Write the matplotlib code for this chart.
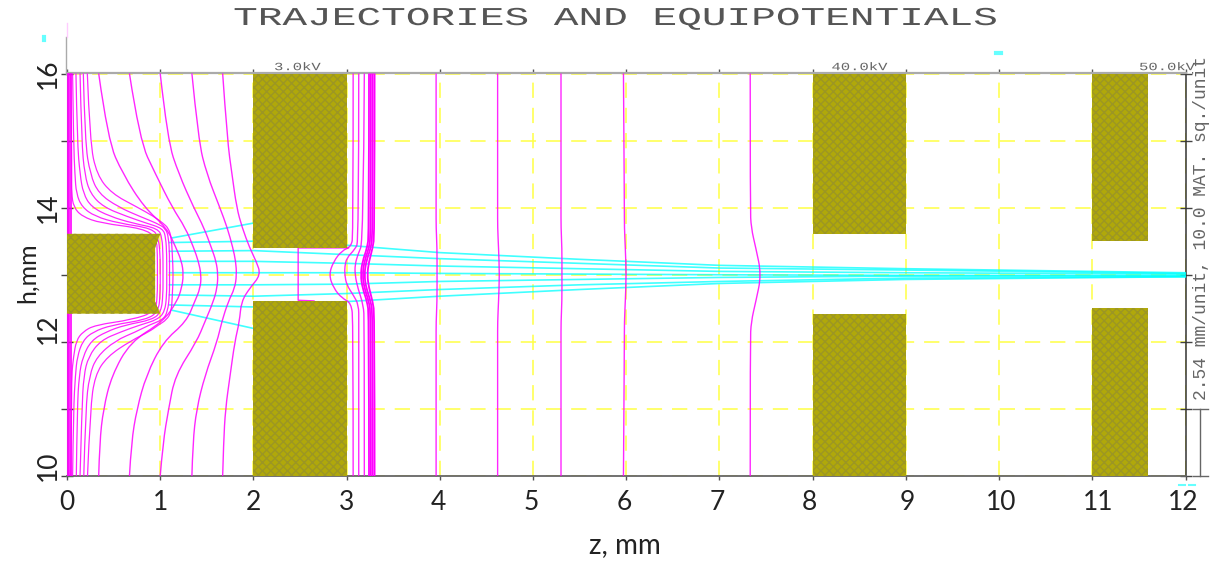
import matplotlib
matplotlib.use("Agg")
import matplotlib.pyplot as plt
import matplotlib.patheffects as pe
from matplotlib.patches import PathPatch
from matplotlib.path import Path
from matplotlib.transforms import Affine2D

#Electrodes, as outlines in mm
electrode_1_z = [0, 1.0, 0.945, 0.945, 1.0, 0]
electrode_1_h = [13.61, 13.61, 13.4, 12.6, 12.42, 12.42]
electrode_blocks = [
    (2, 3, 13.40, 16), (2, 3, 10, 12.61),
    (8, 9, 13.61, 16), (8, 9, 10, 12.42),
    (11, 11.6, 13.51, 16), (11, 11.6, 10, 12.50),
]

#Outer equipotentials of the first gap, z read at these h
gap_h = [16, 15, 14.5, 14, 13.7, 13.4, 13.2, 13, 12.8, 12.6, 12.3, 12, 11.5, 11, 10.5, 10]
gap_b = [0.34, 0.44, 0.60, 0.83, 1.07, 1.17, 1.23, 1.25, 1.23, 1.18, 1.03, 0.68, 0.48, 0.39, 0.35, 0.34]
gap_c = [0.67, 0.78, 0.95, 1.13, 1.27, 1.36, 1.41, 1.44, 1.43, 1.37, 1.28, 1.03, 0.85, 0.75, 0.69, 0.67]
gap_d = [1.00, 1.08, 1.20, 1.36, 1.47, 1.55, 1.60, 1.62, 1.61, 1.57, 1.48, 1.39, 1.16, 1.09, 1.03, 1.00]
gap_e = [1.34, 1.41, 1.50, 1.64, 1.72, 1.78, 1.81, 1.82, 1.80, 1.73, 1.66, 1.61, 1.48, 1.39, 1.35, 1.34]
gap_f = [1.67, 1.72, 1.77, 1.82, 1.88, 1.96, 2.03, 2.08, 1.96, 1.87, 1.85, 1.80, 1.75, 1.70, 1.68, 1.67]

#Inner equipotentials wrapping around the first electrode
inner_h = [16, 14.98, 14.49, 14.21, 14.01, 13.87, 13.77, 13.69, 13.55, 13.3, 13, 12.7, 12.45, 12.33, 12.25, 12.15, 12.02, 11.78, 11.5, 11.01, 10]
inner_1 = [0.218, 0.246, 0.32, 0.48, 0.75, 0.93, 1.03, 1.09, 1.12, 1.13, 1.14, 1.13, 1.12, 1.07, 0.98, 0.88, 0.69, 0.43, 0.30, 0.25, 0.22]
inner_2 = [0.175, 0.193, 0.25, 0.34, 0.55, 0.78, 0.96, 1.06, 1.09, 1.10, 1.10, 1.10, 1.08, 1.03, 0.88, 0.74, 0.52, 0.32, 0.24, 0.20, 0.18]
inner_3 = [0.14, 0.157, 0.19, 0.25, 0.39, 0.64, 0.85, 1.03, 1.06, 1.07, 1.07, 1.07, 1.05, 0.97, 0.78, 0.58, 0.36, 0.23, 0.18, 0.16, 0.14]
inner_4 = [0.096, 0.11, 0.14, 0.175, 0.26, 0.46, 0.70, 0.98, 1.02, 1.03, 1.03, 1.03, 1.01, 0.92, 0.62, 0.42, 0.26, 0.17, 0.13, 0.11, 0.10]
inner_5 = [0.06, 0.07, 0.085, 0.10, 0.16, 0.30, 0.55, 0.92, 0.98, 1.0, 1.0, 1.0, 0.98, 0.85, 0.48, 0.28, 0.17, 0.11, 0.09, 0.07, 0.06]
inner_6 = [0.04, 0.05, 0.05, 0.05, 0.07, 0.16, 0.36, 0.82, 0.96, 0.97, 0.97, 0.97, 0.95, 0.70, 0.30, 0.17, 0.10, 0.07, 0.05, 0.05, 0.04]

#Lines on the cathode surface
wall_z = [0.012, 0.025, 0.04]
wall_h = [16, 10]

#Second gap, curves bulging towards the electrode
pocket_z = [3.02, 2.48, 2.48, 2.65]
pocket_h = [13.40, 13.40, 12.62, 12.61]
right_1_h = [16, 13.6, 13.42, 13.36, 13.2, 13, 12.8, 12.65, 12.58, 12.3, 10]
right_1_z = [3.07, 3.07, 3.05, 2.95, 2.86, 2.81, 2.86, 2.95, 3.05, 3.07, 3.07]
right_2_h = [16, 13.5, 13.38, 13.25, 13.12, 13, 12.85, 12.7, 12.55, 12.3, 10]
right_2_z = [3.13, 3.13, 3.09, 3.0, 2.98, 2.98, 3.0, 3.07, 3.13, 3.13, 3.13]
right_3_h = [16, 13.5, 13.3, 13.15, 13, 12.8, 12.55, 12.3, 10]
right_3_z = [3.19, 3.18, 3.12, 3.09, 3.09, 3.12, 3.18, 3.19, 3.19]
band_h = [16, 13.6, 13.4, 13.2, 13, 12.8, 12.6, 12.4, 10]
band_1 = [3.24, 3.24, 3.22, 3.17, 3.15, 3.17, 3.22, 3.24, 3.24]
band_2 = [3.26, 3.26, 3.24, 3.19, 3.17, 3.19, 3.24, 3.26, 3.26]
band_3 = [3.28, 3.28, 3.26, 3.21, 3.19, 3.21, 3.26, 3.28, 3.28]
band_4 = [3.30, 3.30, 3.28, 3.24, 3.22, 3.24, 3.28, 3.30, 3.30]

#Nearly straight equipotentials further along
far_h = [16, 14, 13.7, 13.4, 13, 12.6, 12.3, 12, 10]
far_1 = [3.96, 3.96, 3.96, 3.97, 3.97, 3.97, 3.96, 3.96, 3.96]
far_2 = [4.62, 4.62, 4.62, 4.63, 4.64, 4.63, 4.62, 4.62, 4.62]
far_3 = [5.30, 5.30, 5.30, 5.31, 5.31, 5.31, 5.30, 5.30, 5.30]
far_4 = [5.97, 5.98, 5.98, 5.99, 6.0, 5.99, 5.98, 5.98, 5.97]
far_5 = [7.33, 7.33, 7.34, 7.39, 7.45, 7.39, 7.34, 7.33, 7.33]

#Trajectories
ray_z = [1.1, 2, 3, 4, 5.5, 7, 9, 12]
ray_1 = [13.48, 13.50, 13.44, 13.33, 13.23, 13.14, 13.09, 13.03]
ray_2 = [13.35, 13.36, 13.30, 13.24, 13.17, 13.10, 13.07, 13.02]
ray_3 = [13.20, 13.20, 13.17, 13.13, 13.09, 13.05, 13.03, 13.01]
ray_4 = [13.03, 13.03, 13.03, 13.02, 13.01, 13.00, 12.99, 12.99]
ray_5 = [12.85, 12.85, 12.86, 12.90, 12.93, 12.96, 12.98, 12.98]
ray_6 = [12.70, 12.68, 12.72, 12.78, 12.85, 12.90, 12.95, 12.97]
ray_7 = [12.55, 12.52, 12.60, 12.68, 12.78, 12.87, 12.93, 12.97]
edge_ray_z = [1.13, 2.0]
edge_ray_top = [13.55, 13.77]
edge_ray_low = [12.47, 12.20]

#Labels
z_ticks = list(range(0, 13))
h_ticks = list(range(10, 17))
z_label_pos = [0, 1, 2, 3, 3.98, 4.98, 5.98, 6.98, 7.97, 9.02, 10.02, 11.06, 11.97]
z_labels = ["0", "1", "2", "3", "4", "5", "6", "7", "8", "9", "10", "11", "12"]
h_label_pos = [16, 14, 12.2, 10.15]
h_labels = ["16", "14", "12", "10"]
voltage_labels = ["3.0kV", "40.0kV", "50.0kV"]
voltage_pos = [2.47, 8.5, 11.8]

MAGENTA = "#FF00FF"
CYAN = "#00FFFF"
YELLOW = "#FFFF44"
OLIVE = "#B0A80A"
SPECK = "#9C9624"

class StretchX(pe.AbstractPathEffect):
    #Old plotter lettering is much wider than any installed font.
    def __init__(self, factor, center):
        super().__init__()
        self.factor = factor
        self.center = center

    def draw_path(self, renderer, gc, tpath, affine, rgbFace=None):
        stretch = Affine2D().translate(-self.center, 0).scale(self.factor, 1).translate(self.center, 0)
        renderer.draw_path(gc, tpath, affine + stretch, rgbFace)

def smooth_line(ax, xs, ys, **style):
    verts = [(xs[0], ys[0])]
    codes = [Path.MOVETO]
    for i in range(1, len(xs) - 1):
        verts.append((xs[i], ys[i]))
        codes.append(Path.CURVE3)
        if i < len(xs) - 2:
            verts.append(((xs[i] + xs[i + 1]) / 2, (ys[i] + ys[i + 1]) / 2))
        else:
            verts.append((xs[i + 1], ys[i + 1]))
        codes.append(Path.CURVE3)
    ax.add_patch(PathPatch(Path(verts, codes), fill=False, **style))

plt.rcParams['hatch.linewidth'] = 1.0
plt.rcParams['hatch.color'] = SPECK

fig = plt.figure(figsize=(12.22, 5.63), dpi=100)
ax = fig.add_axes([67 / 1222, (563 - 476) / 563, (1185.5 - 67) / 1222, (476 - 73.5) / 563])
ax.set_xlim(0, 12)
ax.set_ylim(10, 16)

ax.set_xticks(z_ticks)
ax.set_yticks(h_ticks)
ax.set_xticklabels([])
ax.set_yticklabels([])
ax.set_axisbelow(True)
ax.grid(True, color=YELLOW, lw=1.1, linestyle=(0, (10, 6.5)))
ax.tick_params(axis='x', top=True, bottom=True, direction='out', length=3, width=1, color='#555555')
ax.tick_params(axis='y', left=True, right=True, direction='inout', length=9, width=1, color='#444444')

ax.spines['top'].set_color('#AAAAAA')
ax.spines['top'].set_linewidth(1.6)
ax.spines['bottom'].set_color('#666666')
ax.spines['bottom'].set_linewidth(1.3)
ax.spines['left'].set_color('#888888')
ax.spines['right'].set_color('#333333')
ax.spines['right'].set_linewidth(1.1)

#Trajectories first, equipotentials over them
for ray in [ray_1, ray_2, ray_3, ray_4, ray_5, ray_6, ray_7]:
    ax.plot(ray_z, ray, color=CYAN, lw=1.2, alpha=0.75, zorder=3)
ax.plot(edge_ray_z, edge_ray_top, color=CYAN, lw=1.2, alpha=0.75, zorder=3)
ax.plot(edge_ray_z, edge_ray_low, color=CYAN, lw=1.2, alpha=0.75, zorder=3)

for curve in [gap_b, gap_c, gap_d, gap_e, gap_f]:
    smooth_line(ax, curve, gap_h, color=MAGENTA, lw=1.0, alpha=0.85, zorder=4)
for curve in [inner_1, inner_2, inner_3, inner_4, inner_5, inner_6]:
    smooth_line(ax, curve, inner_h, color=MAGENTA, lw=0.9, alpha=0.85, zorder=4)
for z in wall_z:
    ax.plot([z, z], wall_h, color=MAGENTA, lw=1.2, zorder=4)
ax.plot(pocket_z, pocket_h, color=MAGENTA, lw=1.0, alpha=0.85, zorder=4)
smooth_line(ax, right_1_z, right_1_h, color=MAGENTA, lw=1.0, alpha=0.85, zorder=4)
smooth_line(ax, right_2_z, right_2_h, color=MAGENTA, lw=1.0, alpha=0.85, zorder=4)
smooth_line(ax, right_3_z, right_3_h, color=MAGENTA, lw=1.0, alpha=0.85, zorder=4)
for curve in [band_1, band_2, band_3, band_4]:
    smooth_line(ax, curve, band_h, color=MAGENTA, lw=1.3, zorder=4)
for curve in [far_1, far_2, far_3, far_4, far_5]:
    smooth_line(ax, curve, far_h, color=MAGENTA, lw=1.0, alpha=0.85, zorder=4)

#Electrodes sit on top of everything
ax.fill(electrode_1_z, electrode_1_h, facecolor=OLIVE, edgecolor=SPECK, lw=0, hatch='xxxx', zorder=5)
for z0, z1, h0, h1 in electrode_blocks:
    ax.fill([z0, z1, z1, z0], [h0, h0, h1, h1], facecolor=OLIVE, edgecolor=SPECK, lw=0, hatch='xxxx', zorder=5)

#Scale bar and the stub of the frame above the plot
ax.plot([12.16, 12.16], [10, 11], color='#666666', lw=1, clip_on=False)
ax.plot([12.08, 12.24], [10, 10], color='#666666', lw=1, clip_on=False)
ax.plot([12.08, 12.24], [11, 11], color='#666666', lw=1, clip_on=False)
ax.plot([-0.01, -0.01], [16, 16.54], color='#AAAAAA', lw=1, clip_on=False)
ax.plot([0.0, 0.0], [16.54, 16.75], color='#FFCCFF', lw=1, clip_on=False)

#Specks left over from the original screen capture
ax.plot([9.97, 10.02], [16.31, 16.31], color=CYAN, lw=3, alpha=0.6, clip_on=False)
ax.plot([11.93, 11.99], [9.86, 9.86], color=CYAN, lw=1.5, alpha=0.6, clip_on=False)
ax.plot([12.04, 12.1], [9.86, 9.86], color=CYAN, lw=1.5, alpha=0.6, clip_on=False)
ax.plot([-0.25, -0.25], [16.5, 16.55], color=CYAN, lw=3, alpha=0.6, clip_on=False)

#Title and plotter text
fig.text(617.5 / 1222, 1 - 18 / 563, "TRAJECTORIES AND EQUIPOTENTIALS", ha='center', va='center',
         family='Liberation Mono', fontsize=18.5, color='#555555',
         path_effects=[StretchX(1.6, 617.5)])
for label, z in zip(voltage_labels, voltage_pos):
    center = ax.transData.transform((z, 16))[0]
    ax.text(z, 16.02, label, ha='center', va='bottom', family='Liberation Mono',
            fontsize=8, color='#666666', path_effects=[StretchX(1.4, center)])
fig.text(1201 / 1222, 1 - 228 / 563, "2.54 mm/unit, 10.0 MAT. sq./unit", rotation=90, ha='center', va='center',
         family='Liberation Mono', fontsize=13, color='#666666')

#Hand-added axis labels, they do not sit exactly on the ticks
for label, z in zip(z_labels, z_label_pos):
    ax.text(z, 9.60, label, ha='center', va='center', family='Lato', fontsize=19, color='#222222', clip_on=False)
for label, h in zip(h_labels, h_label_pos):
    ax.text(-0.2, h, label, ha='center', va='center', rotation=90, family='Lato', fontsize=19, color='#222222', clip_on=False)
fig.text(625 / 1222, 1 - 545 / 563, "z, mm", ha='center', va='center', family='Lato', fontsize=20, color='#222222')
fig.text(27 / 1222, 1 - 273 / 563, "h,mm", ha='center', va='center', rotation=90, family='Lato', fontsize=18, color='#222222')

fig.savefig("out.png", dpi=100, facecolor='white')
